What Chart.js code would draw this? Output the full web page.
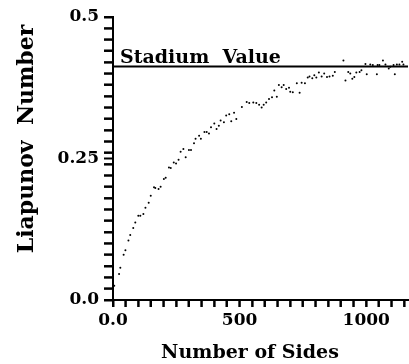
<!DOCTYPE html>
<html>
<head>
<meta charset="utf-8">
<script src="https://cdn.jsdelivr.net/npm/chart.js@4"></script>
<style>
  body { margin: 0; background: #fff; }
  #contenedor { width: 409px; height: 364px; }
</style>
</head>
<body>
<div id="contenedor"><canvas id="liapunov"></canvas></div>
<script>
// Datos del gráfico
var sides = [5, 24, 29, 42, 49, 61, 68, 80, 88, 100, 108, 120, 128, 141, 149, 162, 167, 180, 188, 201,
    208, 221, 228, 240, 249, 259, 267, 278, 287, 300, 308, 320, 326, 340, 347, 361, 370, 379, 387, 400,
    409, 418, 425, 438, 447, 459, 467, 478, 487, 509, 528, 538, 554, 566, 577, 587, 595, 605, 616, 628,
    637, 647, 655, 666, 674, 684, 695, 700, 710, 726, 737, 745, 758, 769, 776, 787, 795, 803, 813, 824,
    834, 845, 855, 868, 876, 910, 918, 929, 937, 945, 953, 961, 974, 981, 997, 1002, 1016, 1026, 1042,
    1045, 1052, 1066, 1076, 1089, 1095, 1108, 1113, 1121, 1131, 1142, 1147];
var liapunov = [0.025, 0.046, 0.057, 0.080, 0.088, 0.105, 0.115, 0.127, 0.137, 0.149, 0.149, 0.152, 0.163,
    0.172, 0.184, 0.199, 0.198, 0.196, 0.200, 0.214, 0.216, 0.234, 0.233, 0.243, 0.241, 0.248, 0.262,
    0.267, 0.252, 0.265, 0.265, 0.277, 0.285, 0.290, 0.285, 0.297, 0.297, 0.294, 0.305, 0.312, 0.302,
    0.308, 0.317, 0.314, 0.326, 0.328, 0.316, 0.331, 0.320, 0.341, 0.350, 0.348, 0.349, 0.348, 0.345,
    0.340, 0.345, 0.349, 0.355, 0.358, 0.370, 0.359, 0.380, 0.376, 0.380, 0.373, 0.375, 0.368, 0.367,
    0.383, 0.366, 0.384, 0.383, 0.393, 0.395, 0.392, 0.397, 0.393, 0.402, 0.395, 0.400, 0.394, 0.395,
    0.396, 0.403, 0.423, 0.388, 0.403, 0.400, 0.391, 0.394, 0.402, 0.403, 0.406, 0.417, 0.399, 0.416,
    0.415, 0.399, 0.415, 0.415, 0.423, 0.416, 0.409, 0.412, 0.415, 0.399, 0.416, 0.416, 0.421, 0.416];
var stadiumValue = 0.4125;
var xMax = 1165;
var yMax = 0.5;
var xTickLabels = { 0: '0.0', 500: '500', 1000: '1000' };
var yTickLabels = { '0.00': '0.0', '0.25': '0.25', '0.50': '0.5' };

var serif = 'DejaVu Serif';

// marcas de los ejes, titulos y etiqueta de la linea
var textos = {
    id: 'textos',
    afterDraw: function(chart) {
        var ctx = chart.ctx;
        var x = chart.scales.x;
        var y = chart.scales.y;
        ctx.save();
        ctx.globalCompositeOperation = 'source-over';
        ctx.globalAlpha = 1;
        ctx.setLineDash([]);
        ctx.strokeStyle = '#000';
        ctx.lineWidth = 2;
        ctx.lineCap = 'butt';
        var b = chart.chartArea.bottom;
        var l = chart.chartArea.left;
        for (var v = 0; v <= xMax; v += 50) {
            var px = x.getPixelForValue(v);
            ctx.beginPath();
            ctx.moveTo(px, b);
            ctx.lineTo(px, b + 7);
            ctx.stroke();
        }
        for (var i = 0; i <= 25; i++) {
            var py = y.getPixelForValue(i * 0.02);
            ctx.beginPath();
            ctx.moveTo(l - 9, py);
            ctx.lineTo(l, py);
            ctx.stroke();
        }

        ctx.fillStyle = '#000';
        ctx.textBaseline = 'alphabetic';
        ctx.font = 'bold 19px "' + serif + '"';
        ctx.textAlign = 'left';
        ctx.fillText('Stadium  Value', x.left + 7, y.getPixelForValue(stadiumValue) - 4);

        ctx.textAlign = 'center';
        ctx.fillText('Number of Sides', 250, 358);

        ctx.font = 'bold 22px "' + serif + '"';
        ctx.translate(33, 139);
        ctx.rotate(-Math.PI / 2);
        ctx.fillText('Liapunov  Number', 0, 0);
        ctx.restore();
    }
};

document.addEventListener('DOMContentLoaded', function() {
    var puntos = sides.map(function(s, i) { return { x: s, y: liapunov[i] }; });

    var config = {
        type: 'scatter',
        data: {
            datasets: [
                {
                    label: 'Liapunov Number',
                    data: puntos,
                    backgroundColor: '#000',
                    borderWidth: 0,
                    pointRadius: 1,
                    pointHoverRadius: 1
                },
                {
                    label: 'Stadium Value',
                    data: [{ x: 0, y: stadiumValue }, { x: xMax, y: stadiumValue }],
                    showLine: true,
                    borderColor: '#000',
                    borderWidth: 2,
                    pointRadius: 0
                }
            ]
        },
        options: {
            responsive: true,
            maintainAspectRatio: false,
            animation: false,
            layout: { padding: { top: 17, right: 0, left: 0, bottom: 0 } },
            plugins: {
                legend: { display: false },
                tooltip: { enabled: false }
            },
            scales: {
                x: {
                    type: 'linear',
                    min: 0,
                    max: xMax,
                    afterBuildTicks: function(scale) {
                        var t = [];
                        for (var v = 0; v <= xMax; v += 50) t.push({ value: v });
                        scale.ticks = t;
                    },
                    afterFit: function(scale) { scale.height = 64; },
                    border: { display: true, color: '#000', width: 2 },
                    grid: { drawOnChartArea: false, tickLength: 7, tickColor: '#000', tickWidth: 2 },
                    ticks: {
                        autoSkip: false,
                        maxRotation: 0,
                        padding: 3,
                        color: '#000',
                        font: { family: serif, size: 17, weight: 'bold' },
                        callback: function(value) { return xTickLabels[value] || ''; }
                    }
                },
                y: {
                    type: 'linear',
                    min: 0,
                    max: yMax,
                    afterBuildTicks: function(scale) {
                        var t = [];
                        for (var i = 0; i <= 25; i++) t.push({ value: i * 0.02 });
                        t.push({ value: 0.25 });
                        t.sort(function(a, b) { return a.value - b.value; });
                        scale.ticks = t;
                    },
                    afterFit: function(scale) { scale.width = 113; },
                    border: { display: true, color: '#000', width: 2 },
                    grid: { drawOnChartArea: false, tickLength: 9, tickColor: '#000', tickWidth: 2 },
                    ticks: {
                        autoSkip: false,
                        padding: 5,
                        color: '#000',
                        font: { family: serif, size: 17, weight: 'bold' },
                        callback: function(value) { return yTickLabels[value.toFixed(2)] || ''; }
                    }
                }
            }
        },
        plugins: [textos]
    };

    var grafico = new Chart(document.getElementById('liapunov'), config);
});
</script>
</body>
</html>
